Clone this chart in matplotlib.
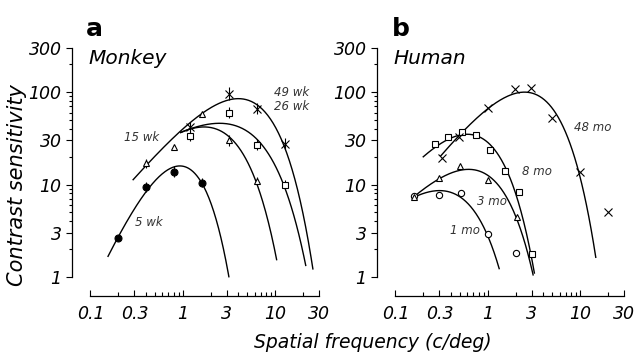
import numpy as np
import matplotlib
matplotlib.use('Agg')
import matplotlib.pyplot as plt
from matplotlib.ticker import FixedLocator, NullFormatter

plt.rcParams['font.family'] = ['DejaVu Sans']

# ---- panel a, monkey: frequency (c/deg), sensitivity, error (log10 half width)
m5_f = [0.2, 0.4, 0.8, 1.6]
m5_s = [2.65, 9.4, 13.8, 10.5]
m5_err = [0.0, 0.05, 0.06, 0.05]
m15_f = [0.4, 0.8, 1.6, 3.2, 6.4]
m15_s = [17, 25.7, 58, 30, 11]
m15_err = [0.05, 0.0, 0.0, 0.06, 0.04]
m26_f = [1.2, 3.2, 6.3, 12.7]
m26_s = [33.6, 60, 27, 10]
m26_err = [0.05, 0.06, 0.06, 0.05]
m49_f = [1.2, 3.2, 6.3, 12.7]
m49_s = [42, 96, 66, 27.6]
m49_err = [0.05, 0.07, 0.06, 0.06]

# ---- panel b, human
h1_f = [0.158, 0.30, 0.51, 1.0, 2.0]
h1_s = [7.5, 7.7, 8.05, 2.9, 1.8]
h3_f = [0.158, 0.30, 0.50, 1.0, 2.05]
h3_s = [7.4, 11.7, 15.7, 11.1, 4.5]
h8_f = [0.267, 0.37, 0.53, 0.75, 1.07, 1.53, 2.17, 3.05]
h8_s = [27.4, 32.3, 36.6, 34.6, 23.8, 14.1, 8.4, 1.78]
h48_f = [0.32, 0.49, 1.0, 1.96, 2.93, 4.97, 9.9, 20]
h48_s = [19.3, 33, 66.5, 108, 112, 52, 13.8, 5.0]

# fitted curves: (peak sensitivity, peak freq, low-freq slope), drawn range
m5_fit, m5_rng = (15.9, 0.93, 2.35), (0.155, 3.16)
m15_fit, m15_rng = (42, 1.7, 1.0), (0.95, 10.4)
m26_fit, m26_rng = (46, 2.5, 0.65), (0.95, 21.5)
m49_fit, m49_rng = (85, 4.0, 1.19), (0.29, 25.7)
h1_fit, h1_rng = (8.6, 0.3, 1.0), (0.158, 1.33)
h3_fit, h3_rng = (14.6, 0.62, 1.1), (0.158, 3.1)
h8_fit, h8_rng = (35, 0.6, 1.3), (0.2, 3.2)
h48_fit, h48_rng = (100, 2.5, 1.31), (0.31, 14.8)


def csf(f, peak_s, peak_f, slope):
    x = f / peak_f
    return peak_s * x ** slope * np.exp(-slope * (x - 1))


def draw_fit(ax, fit, rng):
    f = np.logspace(np.log10(rng[0]), np.log10(rng[1]), 200)
    ax.plot(f, csf(f, *fit), color='k', lw=1.0, zorder=2)


def draw_points(ax, f, s, marker, ms, filled=False, err=None):
    f = np.asarray(f, float)
    s = np.asarray(s, float)
    if err is not None:
        e = np.asarray(err, float)
        ax.errorbar(f, s, yerr=[s - s / 10 ** e, s * 10 ** e - s], fmt='none',
                    ecolor='k', elinewidth=0.8, capsize=0, zorder=3)
    ax.plot(f, s, linestyle='none', marker=marker, ms=ms,
            mfc='k' if filled else 'white', mec='k', mew=0.8, zorder=4)


def style_axes(ax):
    ax.set_xscale('log')
    ax.set_yscale('log')
    ax.set_xlim(10 ** -1.2, 10 ** 1.5)
    ax.set_ylim(10 ** -0.206, 10 ** 2.564)
    for side in ('top', 'right'):
        ax.spines[side].set_visible(False)
    ax.spines['left'].set_bounds(1, 300)
    ax.spines['bottom'].set_bounds(0.1, 30)
    ax.spines['left'].set_linewidth(0.9)
    ax.spines['bottom'].set_linewidth(0.9)
    ax.xaxis.set_major_locator(FixedLocator([0.1, 0.3, 1, 3, 10, 30]))
    ax.xaxis.set_minor_locator(FixedLocator(
        [m * 10.0 ** e for e in (-1, 0, 1) for m in range(2, 10) if m != 3 and m * 10.0 ** e < 30]))
    ax.yaxis.set_major_locator(FixedLocator([1, 3, 10, 30, 100, 300]))
    ax.yaxis.set_minor_locator(FixedLocator(
        [m * 10.0 ** e for e in (0, 1, 2) for m in range(2, 10) if m != 3 and m * 10.0 ** e < 300]))
    ax.set_xticklabels(['0.1', '0.3', '1', '3', '10', '30'])
    ax.set_yticklabels(['1', '3', '10', '30', '100', '300'])
    ax.xaxis.set_minor_formatter(NullFormatter())
    ax.yaxis.set_minor_formatter(NullFormatter())
    ax.tick_params(axis='x', which='both', direction='in', pad=6.5, labelsize=12.5, width=0.8)
    ax.tick_params(axis='x', which='major', length=4.5)
    ax.tick_params(axis='x', which='minor', length=3)
    ax.tick_params(axis='y', which='both', direction='out', pad=3.5, labelsize=12.5, width=0.8)
    ax.tick_params(axis='y', which='major', length=4)
    ax.tick_params(axis='y', which='minor', length=2.5)
    for lab in ax.get_xticklabels() + ax.get_yticklabels():
        lab.set_style('italic')


fig = plt.figure(figsize=(6.39, 3.56), dpi=100)
ax_a = fig.add_axes([72 / 639, 60 / 356, 249.2 / 639, 256 / 356])
ax_b = fig.add_axes([377 / 639, 60 / 356, 249.2 / 639, 256 / 356])
for ax in (ax_a, ax_b):
    style_axes(ax)
    ax.patch.set_visible(False)

# panel a
for fit, rng in ((m5_fit, m5_rng), (m15_fit, m15_rng), (m26_fit, m26_rng), (m49_fit, m49_rng)):
    draw_fit(ax_a, fit, rng)
draw_points(ax_a, m5_f, m5_s, 'o', 5, filled=True, err=m5_err)
draw_points(ax_a, m15_f, m15_s, '^', 5, err=m15_err)
draw_points(ax_a, m26_f, m26_s, 's', 4.5, err=m26_err)
draw_points(ax_a, m49_f, m49_s, 'x', 5.5, err=m49_err)

lab_kw = dict(fontsize=8.5, style='italic', color='#333333', ha='center', va='center')
ax_a.text(15.2, 100, '49 wk', **lab_kw)
ax_a.text(15.2, 69.5, '26 wk', **lab_kw)
ax_a.text(0.355, 32.5, '15 wk', **lab_kw)
ax_a.text(0.434, 3.85, '5 wk', **lab_kw)

# panel b
for fit, rng in ((h1_fit, h1_rng), (h3_fit, h3_rng), (h8_fit, h8_rng), (h48_fit, h48_rng)):
    draw_fit(ax_b, fit, rng)
draw_points(ax_b, h1_f, h1_s, 'o', 4.5)
draw_points(ax_b, h3_f, h3_s, '^', 5)
draw_points(ax_b, h8_f, h8_s, 's', 4.5)
draw_points(ax_b, h48_f, h48_s, 'x', 5.5)

ax_b.text(13.7, 41.1, '48 mo', **lab_kw)
ax_b.text(3.4, 13.7, '8 mo', **lab_kw)
ax_b.text(1.1, 6.5, '3 mo', **lab_kw)
ax_b.text(0.56, 3.15, '1 mo', **lab_kw)

# panel letters and titles
fig.text(86 / 639, 1 - 36 / 356, 'a', fontsize=18, fontweight='bold', va='baseline')
fig.text(392 / 639, 1 - 36 / 356, 'b', fontsize=18, fontweight='bold', va='baseline')
fig.text(88 / 639, 1 - 64 / 356, 'Monkey', fontsize=14.5, style='italic', va='baseline')
fig.text(393 / 639, 1 - 64 / 356, 'Human', fontsize=14.5, style='italic', va='baseline')

fig.text(17 / 639, 1 - 185.5 / 356, 'Contrast sensitivity', fontsize=15, style='italic',
         rotation=90, ha='center', va='center')
fig.text(373 / 639, 1 - 342 / 356, 'Spatial frequency (c/deg)', fontsize=13.5, style='italic',
         ha='center', va='center')

fig.savefig('out.png', dpi=100)
